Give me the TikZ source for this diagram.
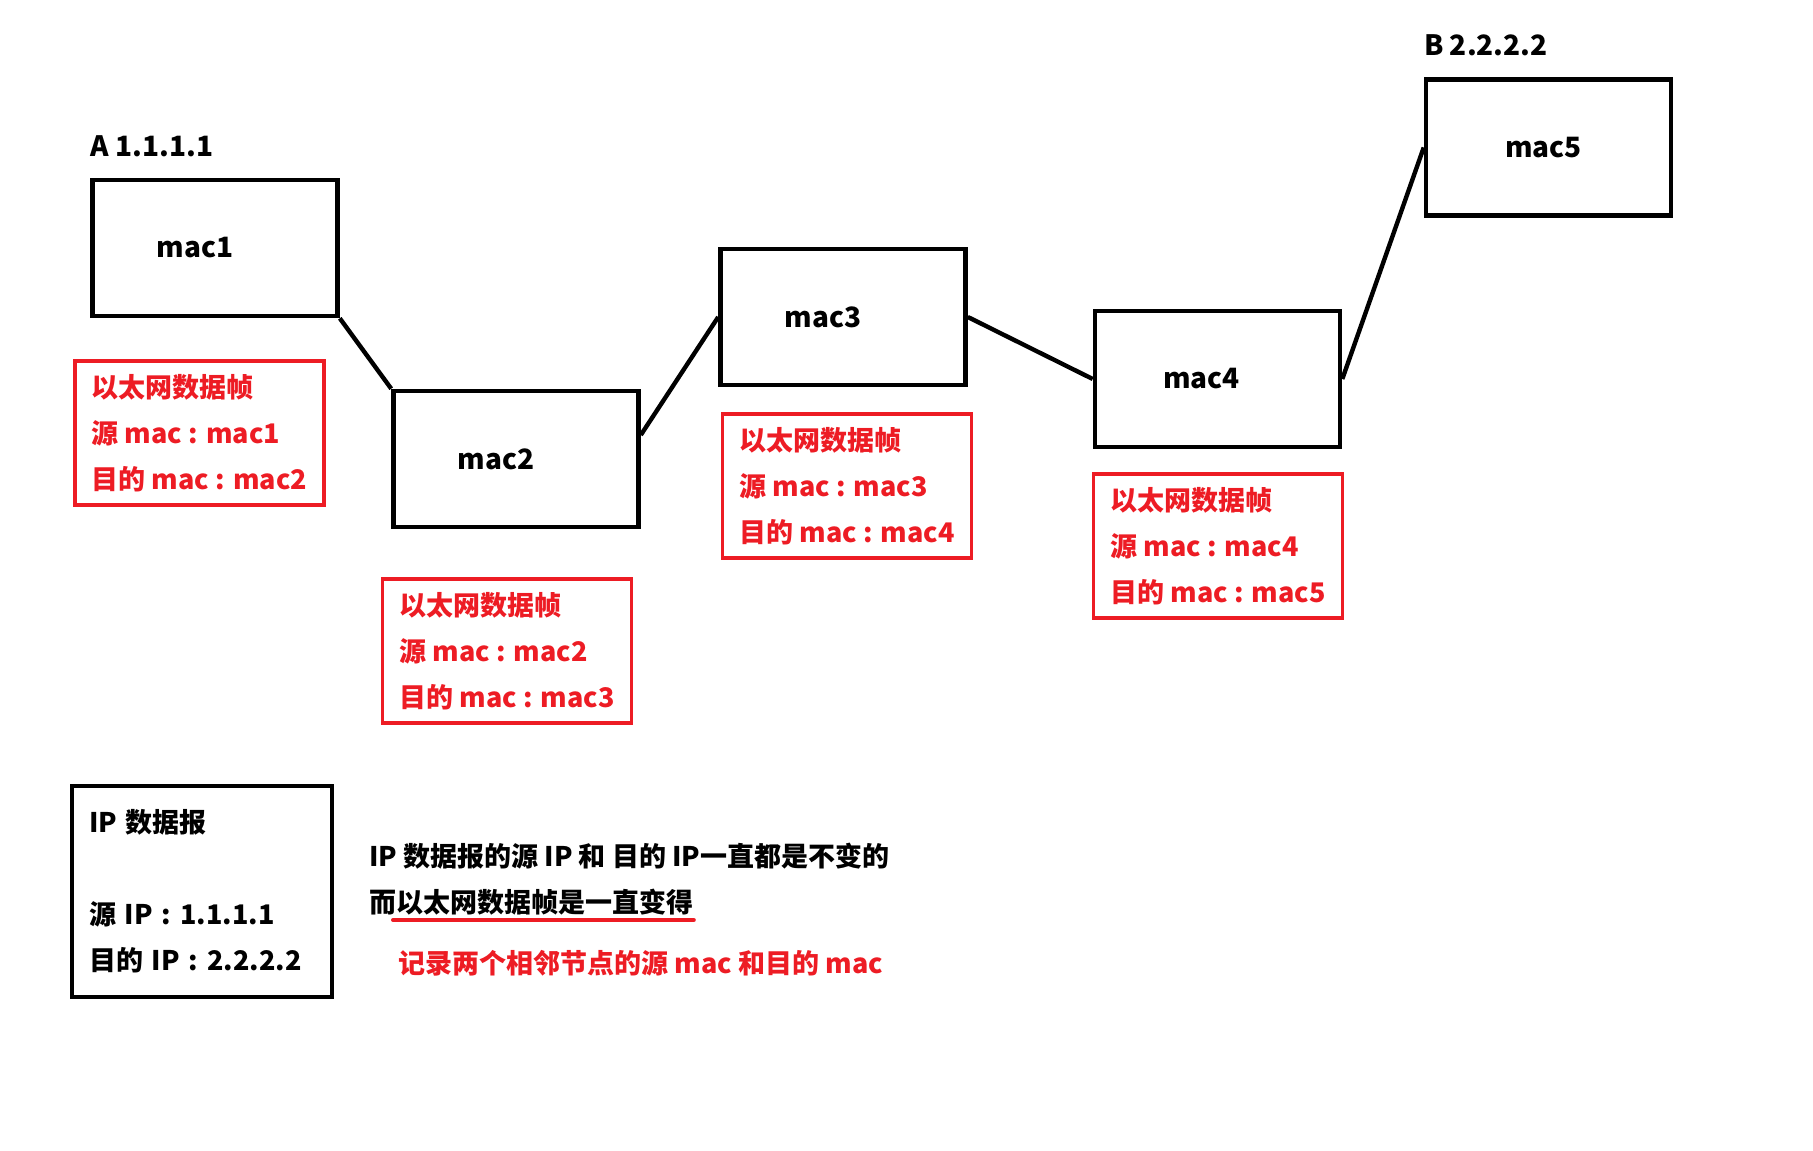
\documentclass[tikz,border=0pt]{standalone}
\usepackage{fontspec}
\setmainfont{Noto Sans CJK SC}
\usetikzlibrary{positioning}
\definecolor{frameRed}{RGB}{237,28,36}
\definecolor{linkInk}{RGB}{0,0,0}
\tikzset{
  macbox/.style={
    draw=linkInk,
    line width=2.3pt,
    align=left,
    text width=58.5pt,
    inner xsep=32pt,
    minimum height=68pt,
    font=\bfseries\fontsize{14}{16}\selectfont
  },
  framebox/.style={
    draw=frameRed,
    text=frameRed,
    line width=1.8pt,
    align=left,
    minimum width=124.5pt,
    minimum height=72pt,
    font=\bfseries\fontsize{13.5}{23}\selectfont
  },
  ipbox/.style={
    draw=linkInk,
    line width=2.3pt,
    align=left,
    text width=113pt,
    inner xsep=8.5pt,
    minimum height=105.5pt,
    font=\bfseries\fontsize{13.5}{23}\selectfont
  },
  hostlabel/.style={
    inner sep=0pt,
    font=\bfseries\fontsize{14}{16}\selectfont
  },
  notetext/.style={
    inner sep=0pt,
    anchor=base west,
    font=\bfseries\fontsize{13.5}{16}\selectfont
  },
  link/.style={
    draw=linkInk,
    line width=2.2pt
  }
}

\begin{document}
\begin{tikzpicture}[x=0.5pt, y=-0.5pt]
  \useasboundingbox (0,0) rectangle (1813,1150);

  \node[macbox] (mac1) at (215,248) {mac1};
  \node[macbox] (mac2) at (516,459) {mac2};
  \node[macbox] (mac3) at (843,317) {mac3};
  \node[macbox, inner xsep=34pt, text width=54.5pt] (mac4) at (1217.5,379) {mac4};
  \node[macbox, inner xsep=39.5pt, text width=43.5pt] (mac5) at (1548.5,147.5) {mac5};

  \node[hostlabel, above right=10pt and 0pt of mac1.north west] (hostA) {A 1.1.1.1};
  \node[hostlabel, above right=10.5pt and 0pt of mac5.north west] (hostB) {B 2.2.2.2};

  \draw[link] (mac1.south east) -- (mac2.north west);
  \draw[link] ([yshift=12pt]mac2.east) -- (mac3.west);
  \draw[link] (mac3.east) -- (mac4.west);
  \draw[link] (mac4.east) -- (mac5.west);

  \node[framebox] (frame1) at (199.5,433) {以太网数据帧\\源 mac : mac1\\目的 mac : mac2};
  \node[framebox] (frame2) at (507,651) {以太网数据帧\\源 mac : mac2\\目的 mac : mac3};
  \node[framebox] (frame3) at (847,486) {以太网数据帧\\源 mac : mac3\\目的 mac : mac4};
  \node[framebox] (frame4) at (1218,546) {以太网数据帧\\源 mac : mac4\\目的 mac : mac5};

  \node[ipbox] (ipgram) at (202,891.5) {IP 数据报\\[23pt]源 IP : 1.1.1.1\\目的 IP : 2.2.2.2};

  \node[notetext] (note1) at (369,866) {IP 数据报的源 IP 和 目的 IP一直都是不变的};
  \node[notetext] (note2) at (369,912) {而以太网数据帧是一直变得};
  \node[notetext, text=frameRed] (note3) at (398,973) {记录两个相邻节点的源 mac 和目的 mac};
  \draw[frameRed, line width=2pt, line cap=round]
    ([xshift=12pt, yshift=-4pt]note2.base west) -- ([yshift=-4pt]note2.base east);
\end{tikzpicture}
\end{document}
